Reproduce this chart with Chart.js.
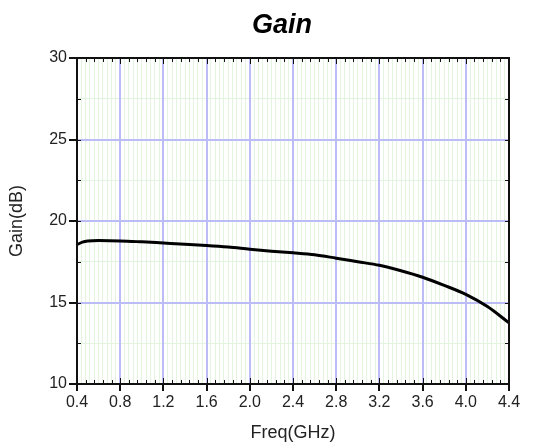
<!DOCTYPE html>
<html>
<head>
<meta charset="utf-8">
<script src="https://cdn.jsdelivr.net/npm/chart.js@4.4.1/dist/chart.umd.min.js"></script>
<style>
  html, body { margin: 0; padding: 0; background: #fff; }
  #wrap { width: 536px; height: 446px; }
</style>
</head>
<body>
<div id="wrap"><canvas id="gainChart" width="536" height="446"></canvas></div>
<script>
const freqGHz = [0.4, 0.45, 0.5, 0.6, 0.8, 1.0, 1.2, 1.4, 1.6, 1.8, 2.0, 2.2, 2.4, 2.6, 2.8, 3.0, 3.2, 3.4, 3.6, 3.8, 4.0, 4.2, 4.4];
const gainDb = [18.55, 18.7, 18.77, 18.8, 18.78, 18.72, 18.65, 18.58, 18.5, 18.4, 18.27, 18.15, 18.05, 17.93, 17.72, 17.5, 17.28, 16.95, 16.55, 16.05, 15.5, 14.75, 13.75];
const xTicks = [0.4, 0.8, 1.2, 1.6, 2.0, 2.4, 2.8, 3.2, 3.6, 4.0, 4.4];
const yTicks = [10, 15, 20, 25, 30];
const chartTitle = 'Gain';

const FONT = 'Arial, "Liberation Sans", sans-serif';
const MINOR = '#e3f5df';
const MAJOR = '#bcbcf6';

function isMultiple(v, step) {
  const r = v / step;
  return Math.abs(r - Math.round(r)) < 1e-6;
}

// title, frame and small inward minor ticks (placed through the scales)
const framePlugin = {
  id: 'frame',
  afterDraw(chart) {
    const { ctx, chartArea: a, scales } = chart;
    const xs = scales.x;
    const ys = scales.y;
    ctx.save();
    ctx.strokeStyle = '#111';
    ctx.lineWidth = 1;
    ctx.beginPath();
    for (let i = 0; i <= 50; i++) {
      const v = 0.4 + i * 0.08;
      const px = Math.round(xs.getPixelForValue(v)) + 0.5;
      const len = i % 5 === 0 ? 6 : 4;
      ctx.moveTo(px, a.top); ctx.lineTo(px, a.top + len);
      ctx.moveTo(px, a.bottom); ctx.lineTo(px, a.bottom - len);
    }
    for (let i = 0; i <= 8; i++) {
      const py = Math.round(ys.getPixelForValue(10 + i * 2.5)) + 0.5;
      ctx.moveTo(a.left, py); ctx.lineTo(a.left + 4, py);
      ctx.moveTo(a.right, py); ctx.lineTo(a.right - 4, py);
    }
    ctx.stroke();
    ctx.lineWidth = 2;
    ctx.strokeRect(a.left, a.top, a.right - a.left, a.bottom - a.top);

    ctx.fillStyle = '#000';
    ctx.font = 'italic bold 27px ' + FONT;
    ctx.textAlign = 'center';
    ctx.textBaseline = 'middle';
    ctx.fillText(chartTitle, (a.left + a.right) / 2 - 11, a.top - 32);
    ctx.restore();
  }
};

new Chart(document.getElementById('gainChart'), {
  type: 'line',
  data: {
    datasets: [{
      label: 'Gain',
      data: freqGHz.map((f, i) => ({ x: f, y: gainDb[i] })),
      borderColor: '#000',
      borderWidth: 3,
      pointRadius: 0,
      tension: 0.4,
      cubicInterpolationMode: 'monotone',
      fill: false,
    }],
  },
  options: {
    responsive: false,
    animation: false,
    layout: { padding: { left: 0, right: 27, top: 58, bottom: 0 } },
    plugins: {
      legend: { display: false },
      tooltip: { enabled: false },
      title: { display: false },
    },
    scales: {
      x2: {
        type: 'linear',
        position: 'bottom',
        min: 0.4,
        max: 4.4,
        z: -1,
        afterBuildTicks(s) {
          const t = [];
          for (let i = 0; i <= 100; i++) t.push({ value: 0.4 + i * 0.04 });
          s.ticks = t;
        },
        ticks: { display: false },
        grid: {
          color: c => (c.tick && isMultiple(c.tick.value - 0.4, 0.4) ? 'rgba(0,0,0,0)' : MINOR),
          lineWidth: 1,
          drawTicks: false,
        },
        border: { display: false },
        afterFit(s) { s.height = 0; },
      },
      y2: {
        type: 'linear',
        position: 'left',
        min: 10,
        max: 30,
        z: -1,
        afterBuildTicks(s) {
          const t = [];
          for (let i = 0; i <= 8; i++) t.push({ value: 10 + i * 2.5 });
          s.ticks = t;
        },
        ticks: { display: false },
        grid: {
          color: c => (c.tick && isMultiple(c.tick.value, 5) ? 'rgba(0,0,0,0)' : MINOR),
          lineWidth: 1,
          drawTicks: false,
        },
        border: { display: false },
        afterFit(s) { s.width = 0; },
      },
      x: {
        type: 'linear',
        min: 0.4,
        max: 4.4,
        afterBuildTicks(s) { s.ticks = xTicks.map(v => ({ value: v })); },
        ticks: {
          color: '#222',
          font: { family: FONT, size: 16 },
          padding: 2,
          maxRotation: 0,
          callback: v => v.toFixed(1),
        },
        grid: { color: MAJOR, lineWidth: 2, tickLength: 7, tickColor: '#111' },
        border: { display: false },
        title: {
          display: true,
          text: 'Freq(GHz)',
          color: '#222',
          font: { family: FONT, size: 18 },
          padding: { top: 0, bottom: 2 },
        },
        afterFit(s) { s.height = 62; },
      },
      y: {
        type: 'linear',
        min: 10,
        max: 30,
        afterBuildTicks(s) { s.ticks = yTicks.map(v => ({ value: v })); },
        ticks: {
          color: '#222',
          font: { family: FONT, size: 16 },
          padding: 2,
        },
        grid: { color: MAJOR, lineWidth: 2, tickLength: 8, tickColor: '#111' },
        border: { display: false },
        title: {
          display: true,
          text: 'Gain(dB)',
          color: '#222',
          font: { family: FONT, size: 18 },
          padding: { top: 6, bottom: 0 },
        },
        afterFit(s) { s.width = 77; },
      },
    },
  },
  plugins: [framePlugin],
});
</script>
</body>
</html>
